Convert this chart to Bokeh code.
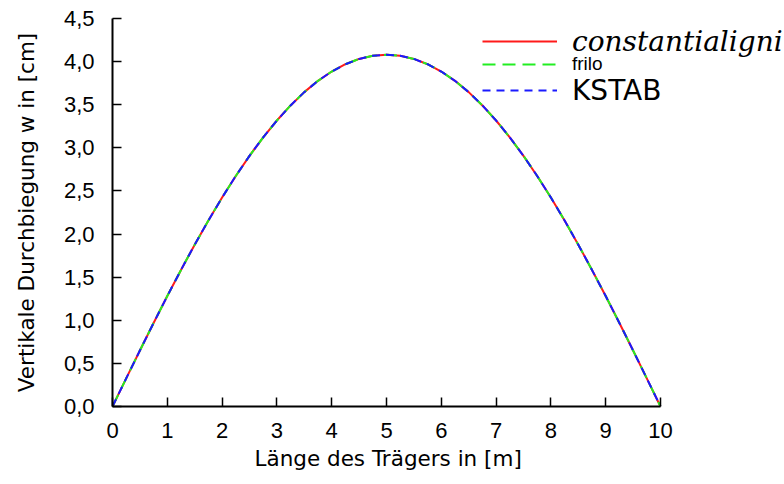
from bokeh.embed import file_html
from bokeh.models import (ColumnDataSource, FixedTicker, Legend, LegendItem,
                          Range1d, Title)
from bokeh.plotting import figure
from bokeh.resources import INLINE

# Position along the beam [m]
positions = [0.0, 0.25, 0.5, 0.75, 1.0, 1.25, 1.5, 1.75, 2.0, 2.25, 2.5,
             2.75, 3.0, 3.25, 3.5, 3.75, 4.0, 4.25, 4.5, 4.75, 5.0,
             5.25, 5.5, 5.75, 6.0, 6.25, 6.5, 6.75, 7.0, 7.25, 7.5,
             7.75, 8.0, 8.25, 8.5, 8.75, 9.0, 9.25, 9.5, 9.75, 10.0]

# Vertical deflection w [cm] from the three programs
w_constantialigni = [0.0, 0.326, 0.650, 0.969, 1.281, 1.584, 1.877, 2.157,
                     2.423, 2.674, 2.907, 3.122, 3.317, 3.492, 3.646, 3.777,
                     3.885, 3.970, 4.031, 4.068, 4.080,
                     4.068, 4.031, 3.970, 3.885, 3.777, 3.646, 3.492, 3.317,
                     3.122, 2.907, 2.674, 2.423, 2.157, 1.877, 1.584, 1.281,
                     0.969, 0.650, 0.326, 0.0]
w_frilo = [0.0, 0.326, 0.650, 0.969, 1.281, 1.584, 1.877, 2.157,
           2.423, 2.674, 2.907, 3.122, 3.317, 3.492, 3.646, 3.777,
           3.885, 3.970, 4.031, 4.068, 4.080,
           4.068, 4.031, 3.970, 3.885, 3.777, 3.646, 3.492, 3.317,
           3.122, 2.907, 2.674, 2.423, 2.157, 1.877, 1.584, 1.281,
           0.969, 0.650, 0.326, 0.0]
w_kstab = [0.0, 0.326, 0.650, 0.969, 1.281, 1.584, 1.877, 2.157,
           2.423, 2.674, 2.907, 3.122, 3.317, 3.492, 3.646, 3.777,
           3.885, 3.970, 4.031, 4.068, 4.080,
           4.068, 4.031, 3.970, 3.885, 3.777, 3.646, 3.492, 3.317,
           3.122, 2.907, 2.674, 2.423, 2.157, 1.877, 1.584, 1.281,
           0.969, 0.650, 0.326, 0.0]

x_ticks = [0, 1, 2, 3, 4, 5, 6, 7, 8, 9, 10]
y_ticks = [0.0, 0.5, 1.0, 1.5, 2.0, 2.5, 3.0, 3.5, 4.0, 4.5]
y_tick_labels = ["0,0", "0,5", "1,0", "1,5", "2,0", "2,5", "3,0", "3,5",
                 "4,0", "4,5"]

source = ColumnDataSource(dict(x=positions, a=w_constantialigni,
                               b=w_frilo, c=w_kstab))

# The plotting area runs to the right edge so the key text has room;
# the x axis itself is bounded to 0..10 m.
p = figure(frame_width=672, frame_height=388,
           min_border_left=112, min_border_right=0,
           min_border_top=18, min_border_bottom=78,
           x_range=Range1d(0, 12.263), y_range=Range1d(0, 4.5),
           output_backend="svg", toolbar_location=None)
p.outline_line_color = None
p.grid.visible = False
p.background_fill_color = "white"
p.border_fill_color = "white"

for ax in (p.xaxis[0], p.yaxis[0]):
    ax.axis_line_width = 2
    ax.axis_line_color = "black"
    ax.major_tick_in = 9
    ax.major_tick_out = 0
    ax.major_tick_line_width = 1.5
    ax.major_tick_line_color = "black"
    ax.minor_tick_line_color = None
    ax.major_label_text_font = "Liberation Sans"
    ax.major_label_text_font_size = "22px"
    ax.major_label_text_color = "black"
    ax.axis_label_text_font = "DejaVu Sans"
    ax.axis_label_text_font_size = "21.5px"
    ax.axis_label_text_font_style = "normal"
    ax.axis_label_text_color = "black"

p.xaxis[0].bounds = (0, 10)
p.xaxis[0].ticker = FixedTicker(ticks=x_ticks)
p.xaxis[0].major_label_standoff = 16

p.yaxis[0].ticker = FixedTicker(ticks=y_ticks)
p.yaxis[0].major_label_overrides = {t: s for t, s in zip(y_ticks, y_tick_labels)}
p.yaxis[0].major_label_standoff = 18
p.yaxis[0].axis_label = "Vertikale Durchbiegung w in [cm]"
p.yaxis[0].axis_label_standoff = 22

# x axis title, placed under the 0..10 m span of the axis
p.add_layout(Title(text="Länge des Trägers in [m]", align="left", offset=142,
                   standoff=6, text_font="DejaVu Sans",
                   text_font_size="21.5px", text_font_style="normal",
                   text_color="black"), "below")

r1 = p.line("x", "a", source=source, line_color="#ff1a1a", line_width=2)
r2 = p.line("x", "b", source=source, line_color="#22ee22", line_width=2,
            line_dash="13 7")
r3 = p.line("x", "c", source=source, line_color="#1a1aff", line_width=2,
            line_dash="8 6")

# Key entries, each with its own text style
legend_specs = [
    (r1, "constantialigni", "DejaVu Serif", "italic", "28px", 345),
    (r2, "frilo", "Liberation Sans", "normal", "19px", 322),
    (r3, "KSTAB", "DejaVu Sans", "normal", "28px", 296),
]
for rend, text, font, style, size, vy in legend_specs:
    leg = Legend(items=[LegendItem(label=text, renderers=[rend])],
                 location=(370, vy), orientation="vertical",
                 padding=0, margin=0, spacing=0,
                 glyph_width=75, glyph_height=40, label_height=40,
                 label_standoff=15,
                 border_line_color=None, background_fill_alpha=0,
                 label_text_font=font, label_text_font_style=style,
                 label_text_font_size=size, label_text_color="black")
    p.add_layout(leg, "center")

open("out.html", "w").write(file_html(p, INLINE))
